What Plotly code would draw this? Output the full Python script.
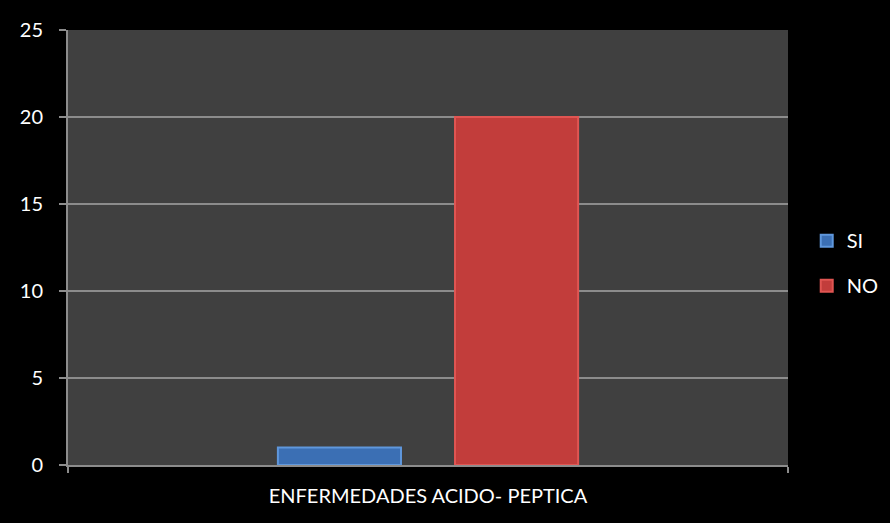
import plotly.graph_objects as go

categories = ["ENFERMEDADES ACIDO- PEPTICA"]
series_names = ["SI", "NO"]
si_values = [1]
no_values = [20]
y_ticks = [0, 5, 10, 15, 20, 25]

fig = go.Figure()
fig.add_trace(go.Bar(
    x=categories, y=si_values, name=series_names[0],
    marker=dict(color="#3b6fb4", line=dict(color="#5f97dc", width=2)),
    legendgroup="a",
))
fig.add_trace(go.Bar(
    x=categories, y=no_values, name=series_names[1],
    marker=dict(color="#c23d3b", line=dict(color="#e05552", width=2)),
    legendgroup="b",
))

font_family = "Lato, Open Sans, sans-serif"
fig.update_layout(
    width=890, height=523,
    margin=dict(l=68, r=102, t=30, b=58, autoexpand=False),
    paper_bgcolor="#000000",
    plot_bgcolor="#404040",
    barmode="group",
    bargap=0.508,
    bargroupgap=0.305,
    font=dict(family=font_family, color="#ffffff", size=20),
    legend=dict(
        x=1.026, y=0.464, xanchor="left", yanchor="middle",
        font=dict(size=20, color="#ffffff"),
        bgcolor="rgba(0,0,0,0)",
        traceorder="grouped",
        tracegroupgap=16,
        itemwidth=30,
    ),
    showlegend=True,
)
fig.update_yaxes(
    range=[0, 25], tickvals=y_ticks,
    showgrid=True, gridcolor="#8c8c8c", gridwidth=1.5,
    showline=True, linecolor="#8c8c8c", linewidth=2,
    ticks="outside", ticklen=7, tickcolor="#8c8c8c", tickwidth=1.5,
    ticklabelstandoff=12,
    zeroline=False,
    tickfont=dict(size=20, color="#ffffff"),
)
fig.update_xaxes(
    showline=True, linecolor="#8c8c8c", linewidth=2,
    ticks="outside", ticklen=6, tickcolor="#8c8c8c", tickwidth=1.5,
    tickson="boundaries",
    ticklabelstandoff=12,
    showgrid=False,
    tickfont=dict(size=20, color="#ffffff"),
)

fig.write_html("out.html")
